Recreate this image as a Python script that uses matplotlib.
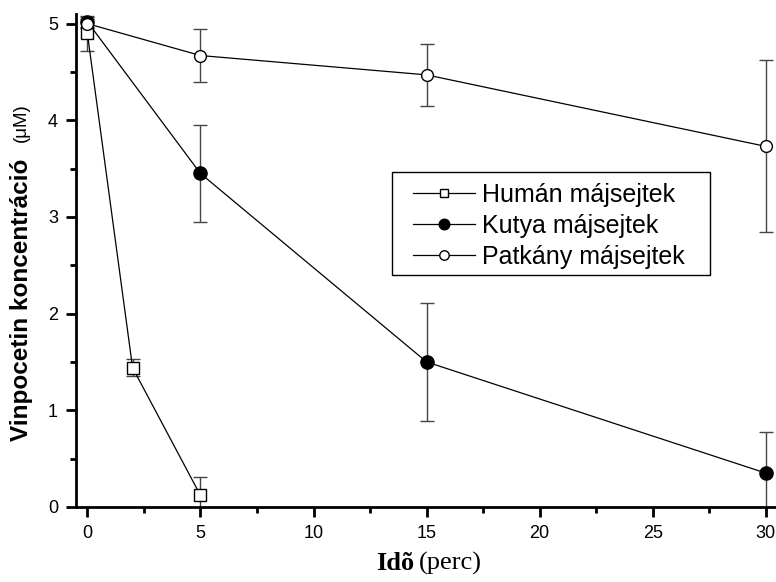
import numpy as np
import matplotlib.pyplot as plt
from matplotlib.patches import Rectangle

plt.rcParams['font.family'] = ['Liberation Sans', 'DejaVu Sans']

# Vinpocetin concentration over time in liver cell cultures
t_human = [0, 2, 5]
c_human = [4.90, 1.44, 0.12]
e_human = [0.18, 0.09, 0.19]

t_dog = [0, 5, 15, 30]
c_dog = [5.02, 3.45, 1.50, 0.35]
e_dog = [0.05, 0.50, 0.61, 0.43]

t_rat = [0, 5, 15, 30]
c_rat = [5.00, 4.67, 4.47, 3.73]
e_rat = [0.05, 0.27, 0.32, 0.89]

labels = ['Humán májsejtek', 'Kutya májsejtek', 'Patkány májsejtek']

fig = plt.figure(figsize=(7.76, 5.82), dpi=100)
ax = fig.add_axes([0.098, 0.129, 0.902, 0.847])

common = dict(color='black', lw=0.9, elinewidth=1.0, ecolor='#444444',
              capsize=5, capthick=1.0)
eb1 = ax.errorbar(t_human, c_human, yerr=e_human, fmt='-s', ms=8,
                  mfc='white', mec='black', mew=1.0, **common)
eb2 = ax.errorbar(t_dog, c_dog, yerr=e_dog, fmt='-o', ms=9.5,
                  mfc='black', mec='black', mew=1.0, **common)
eb3 = ax.errorbar(t_rat, c_rat, yerr=e_rat, fmt='-o', ms=8.5,
                  mfc='white', mec='black', mew=1.0, **common)

ax.set_xlim(-0.5, 30.45)
ax.set_ylim(0, 5.1)
ax.set_xticks(np.arange(0, 31, 5))
ax.set_xticks(np.arange(0, 31, 2.5), minor=True)
ax.set_yticks(np.arange(0, 6, 1))
ax.set_yticks(np.arange(0, 5.1, 0.5), minor=True)

for s in ['top', 'right']:
    ax.spines[s].set_visible(False)
for s in ['left', 'bottom']:
    ax.spines[s].set_linewidth(2)
ax.tick_params(which='major', direction='out', length=7, width=2,
               labelsize=13, pad=6)
ax.tick_params(which='minor', direction='out', length=4, width=2)

# legend shows only the data lines, without error bars; the box is drawn
# separately so it can have wider side margins
leg = ax.legend([eb1[0], eb2[0], eb3[0]], labels,
                loc='upper left', bbox_to_anchor=(0.481, 0.658),
                borderaxespad=0, fontsize=18, frameon=False,
                handlelength=2.5, handletextpad=0.28,
                borderpad=0, labelspacing=0.28, markerscale=0.8)
ax.add_patch(Rectangle((0.451, 0.4706), 0.455, 0.209, transform=ax.transAxes,
                       fill=False, edgecolor='black', lw=1.0, zorder=5))

# axis titles with mixed weights
fig.text(0.028, 0.4854, 'Vinpocetin koncentráció', rotation=90,
         fontsize=17.5, fontweight='bold', ha='center', va='center')
fig.text(0.028, 0.789, '(μM)', rotation=90, fontsize=13.5,
         ha='center', va='center')
fig.text(0.5335, 0.032, 'Idõ', fontsize=19, fontweight='bold',
         family=['Liberation Serif', 'DejaVu Serif'], ha='right', va='center')
fig.text(0.540, 0.032, '(perc)', fontsize=19,
         family=['Liberation Serif', 'DejaVu Serif'], ha='left', va='center')

fig.savefig('out.png', dpi=100)
